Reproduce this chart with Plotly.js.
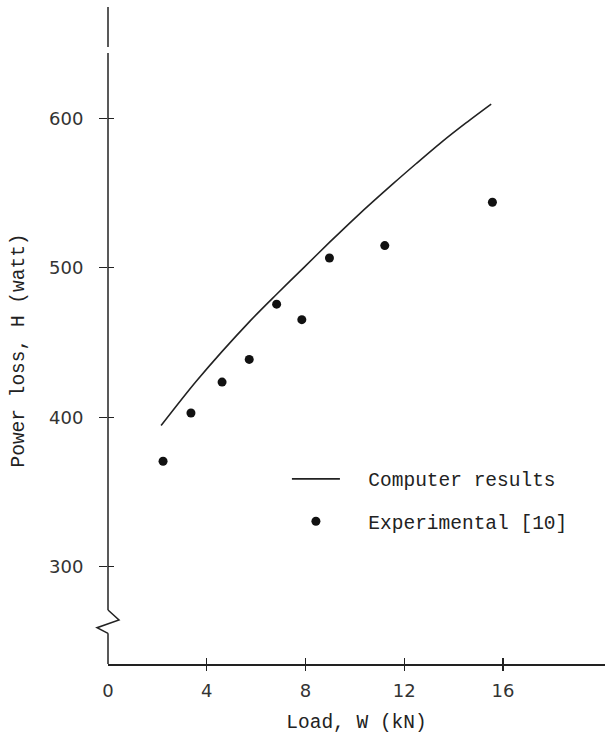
<!DOCTYPE html>
<html>
<head>
<meta charset="utf-8">
<script src="https://cdn.plot.ly/plotly-3.0.1.min.js"></script>
<style>html,body{margin:0;padding:0;background:#fff;}#chart{width:607px;height:738px;}</style>
</head>
<body>
<div id="chart"></div>
<script>
// Computer results (curve)
const loadCurve  = [2.15, 3.6, 5.76, 6.84, 7.92, 9.0, 10.08, 11.56, 12.5, 13.5, 14.5, 15.52];
const powerCurve = [394.4, 424.6, 464.5, 482.5, 500.0, 517.5, 534.5, 556.5, 570.0, 584.0, 597.0, 609.6];
// Experimental [10]
const loadExp  = [2.23, 3.36, 4.62, 5.72, 6.83, 7.85, 8.97, 11.21, 15.57];
const powerExp = [370.5, 402.8, 423.5, 438.7, 475.7, 465.3, 506.6, 514.9, 543.9];
// Axis ticks
const xTickVals = [0, 4, 8, 12, 16];
const xTickMarks = [4, 8, 12, 16];
const yTickVals = [300, 400, 500, 600];
const xRange = [0, 20.13];
const yRange = [234.8, 674.6];

const ink = '#222';
const monoFont = {family: 'Liberation Mono, monospace', size: 19.5, color: ink};
const tickFont = {family: 'DejaVu Sans, sans-serif', size: 18, color: '#333'};
const nb = '\u00a0\u00a0';

const traces = [
  {x: loadCurve, y: powerCurve, mode: 'lines', name: nb + 'Computer results',
   line: {color: ink, width: 1.6, shape: 'spline', smoothing: 0.8}, legendgroup: 'a', xaxis: 'x', yaxis: 'y'},
  {x: loadExp, y: powerExp, mode: 'markers', name: nb + 'Experimental [10]',
   marker: {color: '#111', size: 9}, legendgroup: 'b', xaxis: 'x2', yaxis: 'y2'}
];

const axLine = {color: ink, width: 1.5};

const layout = {
  width: 607, height: 738,
  margin: {l: 108, r: 2, t: 7, b: 74},
  paper_bgcolor: '#fff', plot_bgcolor: '#fff',
  showlegend: true,
  legend: {x: 0.36, xanchor: 'left', y: 0.311, yanchor: 'top', font: monoFont,
           itemwidth: 48, tracegroupgap: 14, bgcolor: 'rgba(0,0,0,0)'},
  xaxis: {range: xRange, tickmode: 'array', tickvals: xTickVals, ticktext: xTickVals.map(String),
          ticks: 'inside', ticklen: 6, tickwidth: 1.3, tickcolor: ink,
          showline: true, linecolor: ink, linewidth: 1.5,
          showgrid: false, zeroline: false, tickfont: tickFont, ticklabelstandoff: 10,
          title: {text: 'Load, W (kN)', font: monoFont, standoff: 14}},
  xaxis2: {visible: true, range: xRange, overlaying: 'x', anchor: 'y', side: 'bottom',
           tickmode: 'array', tickvals: xTickMarks,
           ticks: 'outside', ticklen: 6, tickwidth: 1.3, tickcolor: ink,
           showticklabels: false, showgrid: false, zeroline: false, showline: false},
  yaxis: {range: yRange, tickmode: 'array', tickvals: yTickVals, ticks: 'outside', ticklen: 8,
          tickwidth: 1.3, tickcolor: ink, showline: false, showgrid: false,
          zeroline: false, tickfont: tickFont, ticklabelstandoff: 12},
  yaxis2: {visible: true, range: yRange, overlaying: 'y', anchor: 'x', side: 'left',
           tickmode: 'array', tickvals: yTickVals,
           ticks: 'inside', ticklen: 6, tickwidth: 1.3, tickcolor: ink,
           showticklabels: false, showgrid: false, zeroline: false, showline: false},
  annotations: [
    {text: 'Power loss, H (watt)', textangle: -90, xref: 'paper', yref: 'paper',
     x: 0, y: 0.5, xanchor: 'center', yanchor: 'middle', xshift: -90, yshift: -15,
     showarrow: false, font: monoFont}
  ],
  shapes: [
    // broken y-axis line drawn in paper space
    {type: 'line', xref: 'paper', yref: 'paper', x0: 0, x1: 0, y0: 1, y1: 0.9391, line: axLine},
    {type: 'line', xref: 'paper', yref: 'paper', x0: 0, x1: 0, y0: 0.9300, y1: 0.0822, line: axLine},
    {type: 'path', xref: 'paper', yref: 'paper', xsizemode: 'pixel', ysizemode: 'pixel',
     xanchor: 0, yanchor: 0.0822, path: 'M0,0 L11,-10 L-11,-17.7 L0,-23.3',
     line: axLine},
    {type: 'line', xref: 'paper', yref: 'paper', x0: 0, x1: 0, y0: 0.0467, y1: 0, line: axLine}
  ]
};

Plotly.newPlot('chart', traces, layout, {displayModeBar: false, staticPlot: true});
</script>
</body>
</html>
